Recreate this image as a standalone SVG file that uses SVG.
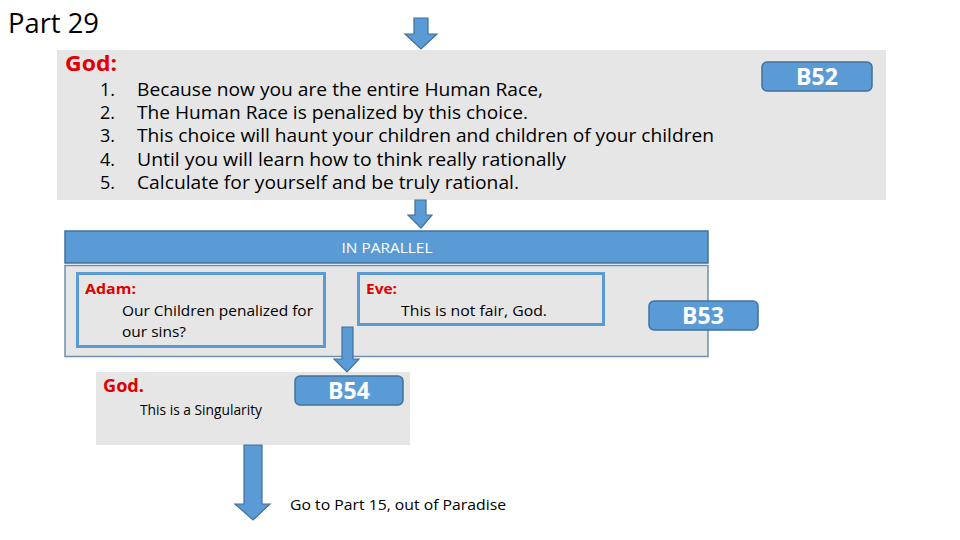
<svg xmlns="http://www.w3.org/2000/svg" width="960" height="540" viewBox="0 0 960 540">
<style>
text{font-family:"Open Sans","Liberation Sans",sans-serif;}
.gray{fill:#e7e6e6;}
.blue{fill:#5b9bd5;stroke:#41719c;stroke-width:1.5;}
.arrow{fill:#5b9bd5;stroke:#41719c;stroke-width:1.2;}
.badge{fill:#fff;font-weight:bold;font-size:23px;text-anchor:middle;}
.red{fill:#e00000;font-weight:bold;}
.body{fill:#000;}
.inner{fill:#e7e6e6;stroke:#5b9bd5;stroke-width:3;}
</style>
<rect width="960" height="540" fill="#fff"/>
<text x="8" y="33" font-size="27" class="body" textLength="91" lengthAdjust="spacingAndGlyphs">Part 29</text>

<g id="god1">
<rect class="gray" x="57" y="50" width="829" height="150"/>
<text x="65" y="71" font-size="21" class="red" textLength="52" lengthAdjust="spacingAndGlyphs">God:</text>
<g font-size="18" class="body">
<text x="100" y="96">1.</text><text x="137" y="96" textLength="406" lengthAdjust="spacingAndGlyphs">Because now you are the entire Human Race,</text>
<text x="100" y="119">2.</text><text x="137" y="119" textLength="391" lengthAdjust="spacingAndGlyphs">The Human Race is penalized by this choice.</text>
<text x="100" y="142">3.</text><text x="137" y="142" textLength="577" lengthAdjust="spacingAndGlyphs">This choice will haunt your children and children of your children</text>
<text x="100" y="166">4.</text><text x="137" y="166" textLength="429" lengthAdjust="spacingAndGlyphs">Until you will learn how to think really rationally</text>
<text x="100" y="189">5.</text><text x="137" y="189" textLength="382" lengthAdjust="spacingAndGlyphs">Calculate for yourself and be truly rational.</text>
</g>
</g>
<g id="b52">
<rect class="blue" x="762" y="62" width="110" height="29" rx="5"/>
<text class="badge" x="817" y="85">B52</text>
</g>

<g id="parallel">
<rect class="blue" x="65" y="231" width="643" height="32"/>
<text x="387" y="253" font-size="15" fill="#fff" text-anchor="middle" textLength="91" lengthAdjust="spacingAndGlyphs">IN PARALLEL</text>
<rect x="65" y="265.5" width="643" height="91" fill="#e7e6e6" stroke="#6f8fb0" stroke-width="1.5"/>
</g>
<g id="adam">
<rect class="inner" x="77.5" y="273.5" width="247" height="73"/>
<text x="85" y="294" font-size="15" class="red" textLength="51" lengthAdjust="spacingAndGlyphs">Adam:</text>
<text x="122" y="316" font-size="15" class="body" textLength="191" lengthAdjust="spacingAndGlyphs">Our Children penalized for</text>
<text x="122" y="337" font-size="15" class="body" textLength="64" lengthAdjust="spacingAndGlyphs">our sins?</text>
</g>
<g id="eve">
<rect class="inner" x="358.5" y="273.5" width="245" height="51"/>
<text x="366" y="294" font-size="15" class="red" textLength="31" lengthAdjust="spacingAndGlyphs">Eve:</text>
<text x="401" y="316" font-size="15" class="body" textLength="146" lengthAdjust="spacingAndGlyphs">This is not fair, God.</text>
</g>
<g id="b53">
<rect class="blue" x="649" y="301" width="109" height="29" rx="5"/>
<text class="badge" x="703" y="324">B53</text>
</g>

<g id="god2">
<rect class="gray" x="96" y="372" width="314" height="73"/>
<text x="103" y="392" font-size="18" class="red" textLength="41" lengthAdjust="spacingAndGlyphs">God.</text>
<text x="140" y="415" font-size="14" class="body" textLength="122" lengthAdjust="spacingAndGlyphs">This is a Singularity</text>
</g>
<g id="b54">
<rect class="blue" x="295" y="376" width="108" height="29" rx="5"/>
<text class="badge" x="349" y="399">B54</text>
</g>

<g id="connectors">
<polygon class="arrow" points="414,18 428,18 428,34 437,34 421,49 405,34 414,34"/>
<polygon class="arrow" points="415,200 426,200 426,215 432,215 421,228 408,215 415,215"/>
<polygon class="arrow" points="342,327 353,327 353,359 359,359 347,372 334,359 342,359"/>
<polygon class="arrow" points="244,445 262,445 262,504 270,504 253,520 235,504 244,504"/>
</g>
<text x="290" y="510" font-size="15" class="body" textLength="216" lengthAdjust="spacingAndGlyphs">Go to Part 15, out of Paradise</text>
</svg>
